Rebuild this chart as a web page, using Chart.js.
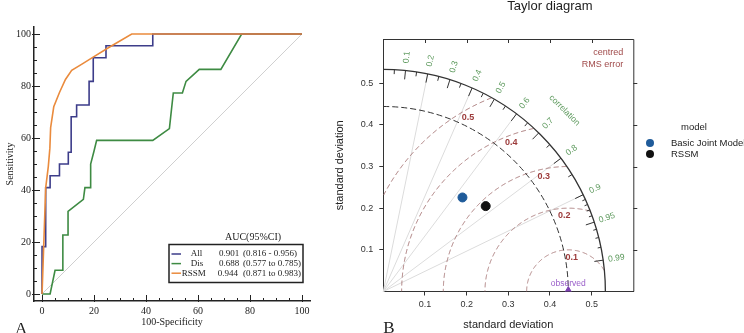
<!DOCTYPE html>
<html>
<head>
<meta charset="utf-8">
<script src="https://cdn.jsdelivr.net/npm/chart.js@4.4.0/dist/chart.umd.min.js"></script>
<style>
  html, body { margin: 0; padding: 0; background: #fff; }
  body { width: 744px; height: 333px; position: relative; overflow: hidden; }
  canvas { position: absolute; top: 0; }
  #roc { left: 0; }
  #taylor { left: 325px; }
</style>
</head>
<body>
<canvas id="roc" width="325" height="333"></canvas>
<canvas id="taylor" width="419" height="333"></canvas>
<script>
// --- Panel A: ROC curves ---
const rocNames = ['All', 'Dis', 'RSSM'];
const rocAuc = ['0.901', '0.688', '0.944'];
const rocCi = ['(0.816 - 0.956)', '(0.577 to 0.785)', '(0.871 to 0.983)'];
const rocColors = ['#3d3d8a', '#3e8b43', '#ea8b3d'];

const allFpr = [0, 0, 1.4, 1.4, 3.1, 3.1, 6.7, 6.7, 10.1, 10.1, 11.2, 11.2, 13.3, 13.3, 18.1, 18.1, 19.7, 19.7, 24.6, 24.6, 42.6, 42.6, 100];
const allTpr = [0, 18.2, 18.2, 40.9, 40.9, 45.5, 45.5, 50, 50, 54.5, 54.5, 68.2, 68.2, 72.7, 72.7, 81.8, 81.8, 90.9, 90.9, 95.5, 95.5, 100, 100];

const disFpr = [0, 3.1, 5, 8, 8, 10, 10, 15.9, 16.5, 18.5, 18.7, 20, 21, 42.6, 49, 49.5, 50.5, 54, 55.4, 60.5, 68.8, 76.8, 100];
const disTpr = [0, 0, 9.1, 9.1, 22.7, 22.7, 31.8, 36.4, 40.9, 40.9, 50, 55, 59.1, 59.1, 63.6, 68.2, 77.3, 77.3, 81.8, 86.4, 86.4, 100, 100];

const rssmFpr = [0, 1.4, 2.4, 3, 3.3, 4.5, 6.7, 9, 11.4, 15.5, 19.5, 26, 34.5, 100];
const rssmTpr = [0, 40.8, 49, 56, 64, 72, 77.5, 82.5, 86, 88.5, 91, 95, 100, 100];

const chanceLine = [0, 100];
const rocLabelTicks = [0, 20, 40, 60, 80, 100];
const rocMinorTicks = [0, 5, 10, 15, 20, 25, 30, 35, 40, 45, 50, 55, 60, 65, 70, 75, 80, 85, 90, 95, 100];

// --- Panel B: Taylor diagram ---
const taylorModels = ['Basic Joint Model', 'RSSM'];
const taylorSd = [0.295, 0.320];
const taylorCorr = [0.644, 0.768];
const taylorColors = ['#1f5b9a', '#111111'];
const sdObserved = 0.444;
const sdMax = 0.533;
const sdTicks = [0.1, 0.2, 0.3, 0.4, 0.5];
const rmsLevels = [0.1, 0.2, 0.3, 0.4, 0.5];
const rmsLabelAngle = [84, 93, 102, 111, 120];
const corrLabels = [0.1, 0.2, 0.3, 0.4, 0.5, 0.6, 0.7, 0.8, 0.9, 0.95, 0.99];
const corrMedTicks = [0.05, 0.15, 0.25, 0.35, 0.45, 0.55, 0.65, 0.75, 0.85];
const corrSmallTicks = [0.91, 0.92, 0.93, 0.94, 0.96, 0.97, 0.98];
const corrGrid = [0.2, 0.4, 0.6, 0.8, 0.9];

const zip = (xs, ys) => xs.map((v, i) => ({ x: v, y: ys[i] }));
const SERIF = '"Liberation Serif", "DejaVu Serif", serif';
const SANS = '"Liberation Sans", Arial, sans-serif';

// Ticks nach innen + Legende der ROC-Kurven
const rocDecor = {
  id: 'rocDecor',
  afterDraw(chart) {
    const { ctx, chartArea: a, scales: { x, y } } = chart;
    ctx.save();
    ctx.strokeStyle = '#222';
    ctx.lineWidth = 1;
    rocMinorTicks.forEach(v => {
      const major = rocLabelTicks.includes(v);
      const len = major ? 6 : 3;
      const px = Math.round(x.getPixelForValue(v)) + 0.5;
      ctx.beginPath(); ctx.moveTo(px, a.bottom + (major ? 1 : 0)); ctx.lineTo(px, a.bottom - len); ctx.stroke();
      const py = Math.round(y.getPixelForValue(v)) + 0.5;
      ctx.beginPath(); ctx.moveTo(a.left - (major ? 2 : 0), py); ctx.lineTo(a.left + len, py); ctx.stroke();
    });

    // legend box
    ctx.fillStyle = '#222';
    ctx.font = '10px ' + SERIF;
    ctx.textAlign = 'center';
    ctx.textBaseline = 'middle';
    ctx.fillText('AUC(95%CI)', 253, 237);
    ctx.lineWidth = 1.5;
    ctx.strokeRect(169, 244.5, 134, 38);
    const nameX = [190.7, 190.7, 181.7];
    const aucX = [219, 219, 217.7];
    ctx.textAlign = 'left';
    ctx.font = '9px ' + SERIF;
    rocNames.forEach((n, i) => {
      const ry = 254 + i * 9.6;
      ctx.strokeStyle = rocColors[i];
      ctx.lineWidth = 1.5;
      ctx.beginPath(); ctx.moveTo(171.5, ry); ctx.lineTo(181, ry); ctx.stroke();
      ctx.fillStyle = '#222';
      ctx.fillText(n, nameX[i], ry);
      ctx.fillText(rocAuc[i], aucX[i], ry);
      ctx.fillText(rocCi[i], 243, ry);
    });

    ctx.font = '17px ' + SERIF;
    ctx.textBaseline = 'alphabetic';
    ctx.fillText('A', 15, 334);
    ctx.restore();
  }
};

new Chart(document.getElementById('roc'), {
  type: 'scatter',
  data: {
    datasets: [
      { label: 'RSSM', data: zip(rssmFpr, rssmTpr), borderColor: rocColors[2], order: 1 },
      { label: 'All', data: zip(allFpr, allTpr), borderColor: rocColors[0], order: 2 },
      { label: 'Dis', data: zip(disFpr, disTpr), borderColor: rocColors[1], order: 3 },
      { label: 'chance', data: zip(chanceLine, chanceLine), borderColor: '#cfcfcf', borderWidth: 1, order: 4 }
    ].map(d => Object.assign({ showLine: true, pointRadius: 0, borderWidth: 1.6, tension: 0 }, d))
  },
  options: {
    responsive: false,
    animation: false,
    events: [],
    layout: { padding: { top: 27, right: 15, left: 0, bottom: 0 } },
    plugins: { legend: { display: false }, tooltip: { enabled: false } },
    scales: {
      x: {
        type: 'linear', min: -3.1, max: 103.1,
        afterBuildTicks: s => { s.ticks = rocLabelTicks.map(v => ({ value: v })); },
        afterFit: s => { s.height = 32; },
        grid: { display: false, drawTicks: false },
        border: { display: true, color: '#222', width: 1.5 },
        ticks: { padding: 4, color: '#222', font: { family: SERIF, size: 10 }, maxRotation: 0 },
        title: { display: true, text: '100-Specificity', color: '#222', font: { family: SERIF, size: 10 }, padding: { top: 0, bottom: 5 } }
      },
      y: {
        type: 'linear', min: -2.7, max: 102.7,
        afterBuildTicks: s => { s.ticks = rocLabelTicks.map(v => ({ value: v })); },
        afterFit: s => { s.width = 34; },
        grid: { display: false, drawTicks: false },
        border: { display: true, color: '#222', width: 1.5 },
        ticks: { padding: 3, color: '#222', font: { family: SERIF, size: 10 } },
        title: { display: true, text: 'Sensitivity', color: '#222', font: { family: SERIF, size: 10 }, padding: { top: 4, bottom: 0 } }
      }
    }
  },
  plugins: [rocDecor]
});

// Taylor-Diagramm: Boegen, Korrelationslinien, Beschriftungen
const taylorDecor = {
  id: 'taylorDecor',
  beforeDatasetsDraw(chart) {
    const { ctx, chartArea: a, scales: { x, y } } = chart;
    const ox = x.getPixelForValue(0), oy = y.getPixelForValue(0);
    const k = x.getPixelForValue(1) - ox;
    const P = (vx, vy) => [x.getPixelForValue(vx), y.getPixelForValue(vy)];
    ctx.save();

    // box top / right with ticks
    ctx.strokeStyle = '#333';
    ctx.lineWidth = 1;
    ctx.beginPath();
    ctx.moveTo(a.left, a.top + 0.5); ctx.lineTo(a.right + 0.5, a.top + 0.5); ctx.lineTo(a.right + 0.5, a.bottom);
    ctx.stroke();
    sdTicks.forEach(v => {
      const px = Math.round(x.getPixelForValue(v)) + 0.5;
      ctx.beginPath(); ctx.moveTo(px, a.top); ctx.lineTo(px, a.top + 4); ctx.stroke();
      const py = Math.round(y.getPixelForValue(v)) + 0.5;
      ctx.beginPath(); ctx.moveTo(a.right, py); ctx.lineTo(a.right + 4, py); ctx.stroke();
    });

    // correlation grid lines
    ctx.strokeStyle = '#dcdcdc';
    corrGrid.forEach(c => {
      const [px, py] = P(sdMax * c, sdMax * Math.sqrt(1 - c * c));
      ctx.beginPath(); ctx.moveTo(ox, oy); ctx.lineTo(px, py); ctx.stroke();
    });

    // centred RMS arcs
    ctx.strokeStyle = '#a57474';
    ctx.setLineDash([5, 3]);
    rmsLevels.forEach(r => {
      ctx.beginPath();
      let started = false;
      for (let t = 0; t <= Math.PI; t += 0.004) {
        const vx = sdObserved + r * Math.cos(t), vy = r * Math.sin(t);
        if (vx < 0 || vx * vx + vy * vy > sdMax * sdMax) continue;
        const [px, py] = P(vx, vy);
        if (!started) { ctx.moveTo(px, py); started = true; } else ctx.lineTo(px, py);
      }
      ctx.stroke();
    });

    // observed sd arc
    ctx.strokeStyle = '#333';
    ctx.setLineDash([6, 3]);
    ctx.beginPath(); ctx.arc(ox, oy, sdObserved * k, -Math.PI / 2, 0); ctx.stroke();

    // outer arc + ticks
    ctx.setLineDash([]);
    ctx.lineWidth = 1.3;
    ctx.beginPath(); ctx.arc(ox, oy, sdMax * k, -Math.PI / 2, 0); ctx.stroke();
    ctx.lineWidth = 1;
    const tick = (c, f) => {
      const s = Math.sqrt(1 - c * c);
      const [x1, y1] = P(sdMax * c, sdMax * s);
      const [x2, y2] = P(sdMax * f * c, sdMax * f * s);
      ctx.beginPath(); ctx.moveTo(x1, y1); ctx.lineTo(x2, y2); ctx.stroke();
    };
    corrLabels.forEach(c => tick(c, 0.96));
    corrMedTicks.forEach(c => tick(c, 0.98));
    corrSmallTicks.forEach(c => tick(c, 0.985));

    // correlation labels
    ctx.fillStyle = '#5c995c';
    ctx.font = '8.5px ' + SANS;
    ctx.textAlign = 'center';
    ctx.textBaseline = 'middle';
    corrLabels.forEach(c => {
      const th = Math.acos(c);
      const [px, py] = P(sdMax * 1.06 * c, sdMax * 1.06 * Math.sin(th));
      ctx.save(); ctx.translate(px, py); ctx.rotate(-th); ctx.fillText(String(c), 0, 0); ctx.restore();
    });
    {
      const th = Math.PI / 4, rr = 0.615;
      const [px, py] = P(rr * Math.cos(th), rr * Math.sin(th));
      ctx.save(); ctx.translate(px, py); ctx.rotate(Math.PI / 2 - th); ctx.fillText('correlation', 0, 0); ctx.restore();
    }

    // RMS labels
    ctx.fillStyle = '#9c3a3a';
    ctx.font = 'bold 9px ' + SANS;
    rmsLevels.forEach((r, i) => {
      const t = rmsLabelAngle[i] * Math.PI / 180, rr = r - 0.018;
      const [px, py] = P(sdObserved + rr * Math.cos(t), rr * Math.sin(t));
      ctx.fillText(String(r), px, py);
    });
    ctx.font = '9px ' + SANS;
    ctx.textAlign = 'right';
    ctx.fillStyle = '#a04a4a';
    ctx.fillText('centred', a.right - 10, a.top + 14);
    ctx.fillText('RMS error', a.right - 10, a.top + 26);

    // observed label
    ctx.textAlign = 'center';
    ctx.fillStyle = '#9a5fc9';
    ctx.font = '8.5px ' + SANS;
    const [obx, oby] = P(sdObserved, 0);
    ctx.fillText('observed', obx, oby - 8);
    ctx.restore();
  },
  afterDraw(chart) {
    const { ctx, chartArea: a } = chart;
    ctx.save();
    ctx.fillStyle = '#222';
    ctx.font = '13px ' + SANS;
    ctx.textAlign = 'center';
    ctx.textBaseline = 'alphabetic';
    ctx.fillText('Taylor diagram', 225, 9.5);

    // model legend
    ctx.font = '9.5px ' + SANS;
    ctx.fillText('model', 369, 129.5);
    ctx.textAlign = 'left';
    ctx.textBaseline = 'middle';
    taylorModels.forEach((m, i) => {
      const ly = 143 + i * 11;
      ctx.fillStyle = taylorColors[i];
      ctx.beginPath(); ctx.arc(325, ly, 4, 0, Math.PI * 2); ctx.fill();
      ctx.fillStyle = '#222';
      ctx.fillText(m, 346, ly);
    });

    ctx.font = '17px ' + SERIF;
    ctx.textBaseline = 'alphabetic';
    ctx.fillText('B', a.left, 333);
    ctx.restore();
  }
};

new Chart(document.getElementById('taylor'), {
  type: 'scatter',
  data: {
    datasets: [
      ...taylorModels.map((m, i) => ({
        label: m,
        data: [{ x: taylorSd[i] * taylorCorr[i], y: taylorSd[i] * Math.sqrt(1 - taylorCorr[i] * taylorCorr[i]) }],
        backgroundColor: taylorColors[i],
        borderColor: taylorColors[i],
        pointRadius: 4.5
      })),
      {
        label: 'observed',
        data: [{ x: sdObserved, y: 0 }],
        pointStyle: 'triangle',
        backgroundColor: '#7d3fb2',
        borderColor: '#7d3fb2',
        pointRadius: 5,
        clip: { left: false, right: false, top: false, bottom: 0 }
      }
    ]
  },
  options: {
    responsive: false,
    animation: false,
    events: [],
    layout: { padding: { top: 39, right: 110.7, left: 0, bottom: 0 } },
    plugins: { legend: { display: false }, tooltip: { enabled: false } },
    scales: {
      x: {
        type: 'linear', min: 0, max: 0.6,
        afterBuildTicks: s => { s.ticks = sdTicks.map(v => ({ value: v })); },
        afterFit: s => { s.height = 41.5; },
        grid: { display: true, drawOnChartArea: false, drawTicks: true, tickLength: 4, color: '#333' },
        border: { display: true, color: '#333', width: 1 },
        ticks: { padding: 4, color: '#333', font: { family: SANS, size: 9 }, maxRotation: 0, callback: v => v.toFixed(1) },
        title: { display: true, text: 'standard deviation', color: '#222', font: { family: SANS, size: 11 }, padding: { top: 0, bottom: 1 } }
      },
      y: {
        type: 'linear', min: 0, max: 0.606,
        afterBuildTicks: s => { s.ticks = sdTicks.map(v => ({ value: v })); },
        afterFit: s => { s.width = 58.3; },
        grid: { display: true, drawOnChartArea: false, drawTicks: true, tickLength: 4, color: '#333' },
        border: { display: true, color: '#333', width: 1 },
        ticks: { padding: 6, color: '#333', font: { family: SANS, size: 9 }, callback: v => v.toFixed(1) },
        title: { display: true, text: 'standard deviation', color: '#222', font: { family: SANS, size: 11 }, padding: { top: 8, bottom: 0 } }
      }
    }
  },
  plugins: [taylorDecor]
});
</script>
</body>
</html>
